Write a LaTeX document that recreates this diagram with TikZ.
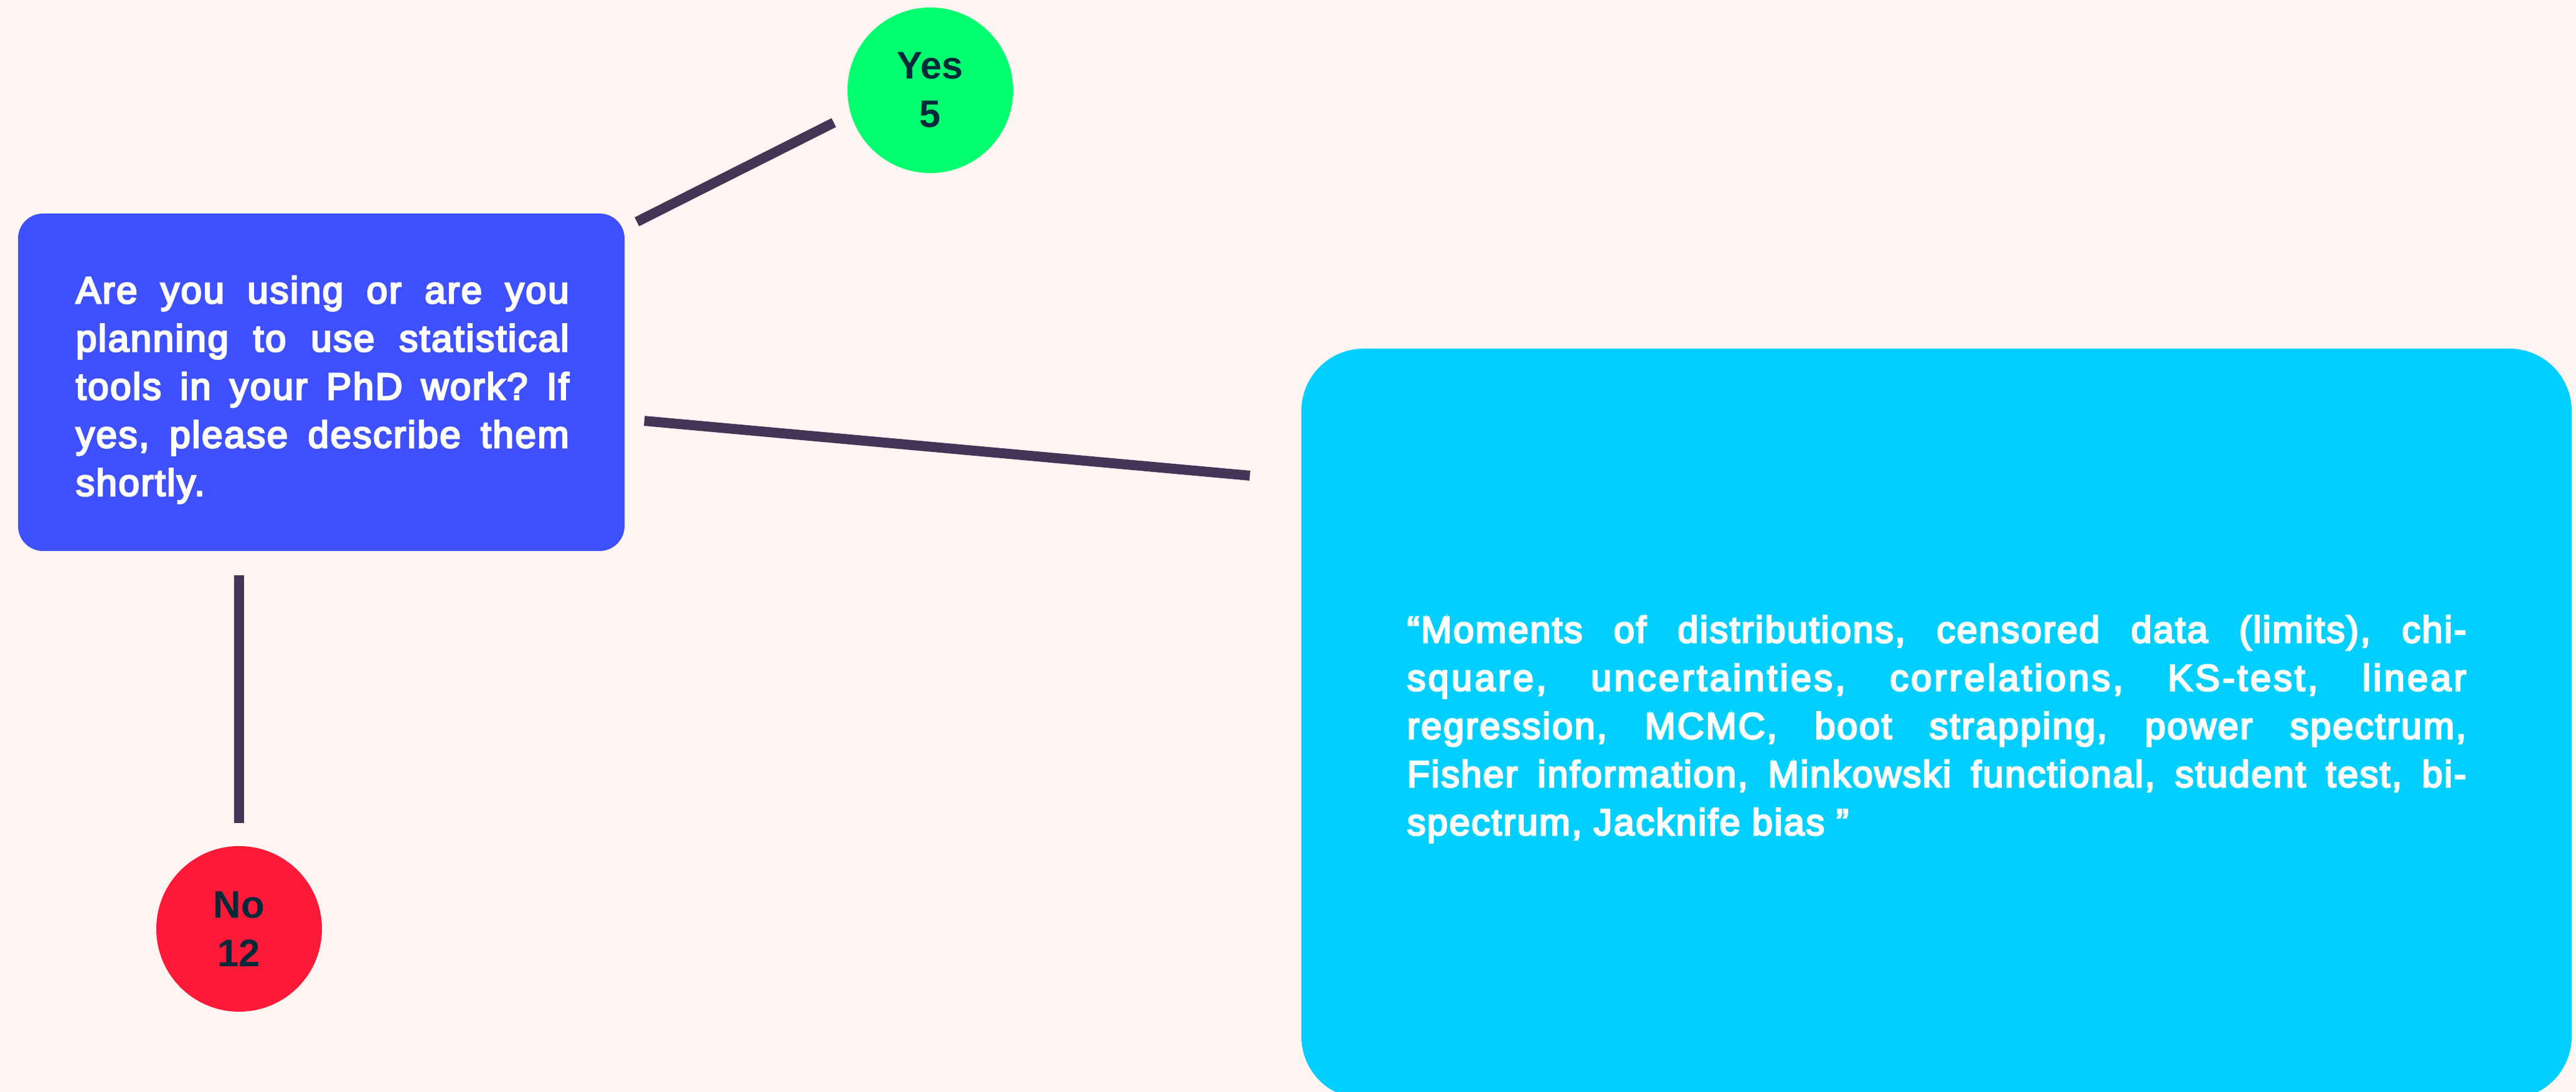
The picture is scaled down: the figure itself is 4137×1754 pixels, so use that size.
\documentclass[tikz,border=0pt]{standalone}
\usepackage{fontspec}
\setmainfont{Liberation Sans}
\newfontfamily\bodyfont[FakeBold=4.5]{Liberation Sans}
\usetikzlibrary{calc}
\definecolor{bgc}{HTML}{FFF5F2}
\definecolor{bluec}{HTML}{3E50FF}
\definecolor{cyanc}{HTML}{00CFFF}
\definecolor{greenc}{HTML}{00FF6E}
\definecolor{redc}{HTML}{FF1938}
\definecolor{linec}{HTML}{443456}
\definecolor{darkc}{HTML}{002A3A}
\hbadness=10000
\frenchspacing
\newcommand{\jline}[2]{\hbox to \linewidth{\addfontfeature{LetterSpace=#1}#2}}
\newcommand{\lline}[2]{\hbox{\addfontfeature{LetterSpace=#1}#2}}
\begin{document}
\begin{tikzpicture}[x=0.25pt,y=-0.25pt,
  conn/.style={draw=linec, line width=4pt, line cap=butt},
  qbox/.style={rectangle, fill=bluec, rounded corners=10pt, inner sep=0pt},
  abox/.style={rectangle, fill=cyanc, rounded corners=25pt, inner sep=0pt},
  count/.style={circle, minimum size=66.5pt, inner sep=0pt, align=center, text=darkc,
    font=\bfseries\fontsize{15.4}{19.5}\selectfont},
  bodytext/.style={anchor=base west, inner sep=0pt, text=white}]
\clip (0,0) rectangle (4137,1754);
\fill[bgc] (0,0) rectangle (4137,1754);
% question box
\node[qbox, minimum width=243.5pt, minimum height=135.5pt] (q) at (516,614) {};
\node[bodytext, font=\bodyfont\fontsize{15.1}{19.33}\selectfont] (qtext) at (121,487)
 {\begin{minipage}[t]{198pt}%
 \jline{4}{Are you using or are you}%
 \jline{4}{planning to use statistical}%
 \jline{4}{tools in your PhD work? If}%
 \jline{4}{yes, please describe them}%
 \lline{4}{shortly.}%
 \end{minipage}};
% answer box
\node[abox, minimum width=510pt, minimum height=301.25pt] (a) at (3110,1162.5) {};
\node[bodytext, font=\bodyfont\fontsize{14.9}{19.33}\selectfont] (atext) at (2259,1032)
 {\begin{minipage}[t]{425.25pt}%
 \jline{4}{“Moments of distributions, censored data (limits), chi-}%
 \jline{7}{square, uncertainties, correlations, KS-test, linear}%
 \jline{4.4}{regression, MCMC, boot strapping, power spectrum,}%
 \jline{4}{Fisher information, Minkowski functional, student test, bi-}%
 \lline{4}{spectrum, Jacknife bias ”}%
 \end{minipage}};
% counts
\node[count, fill=greenc] (yes) at (1494,145) {Yes\\5};
\node[count, fill=redc] (no) at (384,1492) {No\\12};
% connectors
\draw[conn] ($(q.north east)+(19,14)$) -- ($(yes.center)+(-155,52)$);
\draw[conn] ($(q.east)+(31,62)$) -- ($(a.west)+(-82,-398.5)$);
\draw[conn] ($(q.south -| no.north)+(0,38)$) -- ($(no.north)+(0,-36)$);
\end{tikzpicture}
\end{document}
